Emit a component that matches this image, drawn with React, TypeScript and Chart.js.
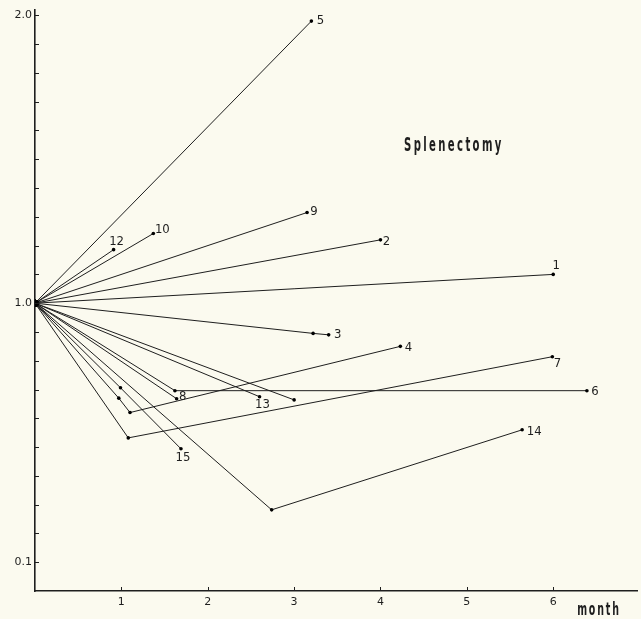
import React, { useEffect, useRef } from 'react';
import { Chart, registerables } from 'chart.js';

Chart.register(...registerables);

// ---- data (months after splenectomy, relative value) ----
const seriesNames = ['1', '2', '3', '4', '5', '6', '7', '8', '9', '10', '', '12', '13', '14', '15'];

const months1 = [0, 6.0];
const values1 = [1.0, 1.1];
const months2 = [0, 4.0];
const values2 = [1.0, 1.22];
const months3 = [0, 3.22, 3.4];
const values3 = [1.0, 0.895, 0.89];
const months4 = [0, 0.97, 1.1, 4.23];
const values4 = [1.0, 0.67, 0.62, 0.85];
const months5 = [0, 3.2];
const values5 = [1.0, 1.98];
const months6 = [0, 1.62, 6.39];
const values6 = [1.0, 0.696, 0.696];
const months7 = [0, 1.08, 5.99];
const values7 = [1.0, 0.532, 0.814];
const months8 = [0, 1.64];
const values8 = [1.0, 0.668];
const months9 = [0, 3.15];
const values9 = [1.0, 1.315];
const months10 = [0, 1.37];
const values10 = [1.0, 1.242];
const months11 = [0, 3.0];
const values11 = [1.0, 0.664];
const months12 = [0, 0.91];
const values12 = [1.0, 1.186];
const months13 = [0, 2.6];
const values13 = [1.0, 0.675];
const months14 = [0, 2.74, 5.64];
const values14 = [1.0, 0.282, 0.56];
const months15 = [0, 0.99, 1.69];
const values15 = [1.0, 0.706, 0.494];

const allMonths = [months1, months2, months3, months4, months5, months6, months7, months8, months9, months10, months11, months12, months13, months14, months15];
const allValues = [values1, values2, values3, values4, values5, values6, values7, values8, values9, values10, values11, values12, values13, values14, values15];

const yLabelled = [0.1, 1.0, 2.0];
const xLabelled = [1, 2, 3, 4, 5, 6];
const titleText = 'Splenectomy';
const xTitleText = 'month';

// ---- styling (label offsets in px relative to last point) ----
const labelDx = [3, 6, 9, 8, 9, 8, 5, 6, 7, 9, 0, 3, 3, 12, 2];
const labelDy = [-9, 2, 0, 1, 0, 1, 7, -2, -1, -4, 0, -8, 8, 2, 9];

const BG = '#fbfaef';
const INK = '#1e1e1e';

const bgPlugin = {
  id: 'bg',
  beforeDraw(chart: any) {
    const { ctx, width, height } = chart;
    ctx.save();
    ctx.fillStyle = BG;
    ctx.fillRect(0, 0, width, height);
    ctx.restore();
  },
};

function drawSpaced(ctx: any, text: string, cx: number, cy: number, font: string, spacing: number, squeeze: number) {
  ctx.save();
  ctx.font = font;
  ctx.letterSpacing = spacing + 'px';
  ctx.textAlign = 'center';
  ctx.textBaseline = 'middle';
  ctx.translate(cx, cy);
  ctx.scale(squeeze, 1);
  ctx.fillText(text, 0, 0);
  ctx.restore();
}

const decorPlugin = {
  id: 'decor',
  afterDraw(chart: any) {
    const ctx = chart.ctx;
    const xs = chart.scales.x;
    const ys = chart.scales.y;
    const area = chart.chartArea;
    ctx.save();
    ctx.strokeStyle = INK;
    ctx.lineWidth = 1;
    ys.ticks.forEach((t: any) => {
      const v = t.value;
      const r = Math.round(v * 10);
      if (r < 1 || Math.abs(v * 10 - r) > 1e-6) return;
      const py = Math.round(ys.getPixelForValue(v)) + 0.5;
      ctx.beginPath();
      ctx.moveTo(area.left, py);
      ctx.lineTo(area.left + 4, py);
      ctx.stroke();
    });
    xs.ticks.forEach((t: any) => {
      const v = t.value;
      if (v < 1 || Math.abs(v - Math.round(v)) > 1e-6) return;
      const px = Math.round(xs.getPixelForValue(v)) + 0.5;
      ctx.beginPath();
      ctx.moveTo(px, area.bottom);
      ctx.lineTo(px, area.bottom - 4);
      ctx.stroke();
    });

    // series numbers
    ctx.fillStyle = INK;
    ctx.font = '13px "DejaVu Sans Condensed"';
    ctx.textAlign = 'center';
    ctx.textBaseline = 'middle';
    chart.data.datasets.forEach((ds: any, i: number) => {
      const name = seriesNames[i];
      if (!name) return;
      const meta = chart.getDatasetMeta(i);
      const last = meta.data[meta.data.length - 1];
      ctx.fillText(name, last.x + labelDx[i], last.y + labelDy[i]);
    });

    // title and axis name
    drawSpaced(ctx, titleText, xs.getPixelForValue(4.85), ys.getPixelForValue(1.545), '600 19px "DejaVu Sans Condensed"', 4, 0.59);
    drawSpaced(ctx, xTitleText, xs.getPixelForValue(6.53), area.bottom + 20, '600 17px "DejaVu Sans Condensed"', 3, 0.62);
    ctx.restore();
  },
};

export default function App() {
  const ref = useRef<HTMLCanvasElement | null>(null);

  useEffect(() => {
    if (!ref.current) return;
    document.body.style.background = BG;
    const datasets = allMonths.map((ms, i) => ({
      label: seriesNames[i] || 'unlabelled',
      data: ms.map((m, j) => ({ x: m, y: allValues[i][j] })),
      borderColor: INK,
      backgroundColor: INK,
      borderWidth: 1,
      pointRadius: (c: any) => (c.dataIndex === 0 ? 3.5 : 1.8),
      pointBorderWidth: 0,
      pointBackgroundColor: '#000',
      showLine: true,
      tension: 0,
    }));

    const chart = new Chart(ref.current, {
      type: 'scatter',
      data: { datasets },
      options: {
        animation: false,
        responsive: false,
        layout: { padding: { top: 8, right: 0, left: 0, bottom: 0 } },
        plugins: { legend: { display: false }, tooltip: { enabled: false }, title: { display: false } },
        scales: {
          x: {
            type: 'linear',
            min: 0,
            max: 6.97,
            afterFit: (s: any) => { s.height = 28; },
            grid: { display: false, drawTicks: false },
            border: { display: true, color: INK, width: 1.6 },
            ticks: {
              stepSize: 1,
              padding: 5,
              includeBounds: false,
              color: INK,
              font: { family: '"DejaVu Sans"', size: 11 },
              callback: (v: any) => (xLabelled.includes(Number(v)) ? String(v) : ''),
            },
          },
          y: {
            type: 'linear',
            min: 0,
            max: 2.02,
            afterFit: (s: any) => { s.width = 35; },
            grid: { display: false, drawTicks: false },
            border: { display: true, color: INK, width: 1.6 },
            ticks: {
              stepSize: 0.1,
              padding: 3,
              autoSkip: false,
              includeBounds: false,
              color: INK,
              font: { family: '"DejaVu Sans"', size: 11 },
              callback: (v: any) => {
                const n = Number(v);
                return yLabelled.some((l) => Math.abs(l - n) < 1e-6) ? n.toFixed(1) : '';
              },
            },
          },
        },
      },
      plugins: [bgPlugin, decorPlugin],
    });
    return () => chart.destroy();
  }, []);

  return (
    <div style={{ position: 'fixed', left: 0, top: 0, width: 641, height: 619, background: BG }}>
      <canvas ref={ref} width={641} height={619} style={{ display: 'block' }} />
    </div>
  );
}
